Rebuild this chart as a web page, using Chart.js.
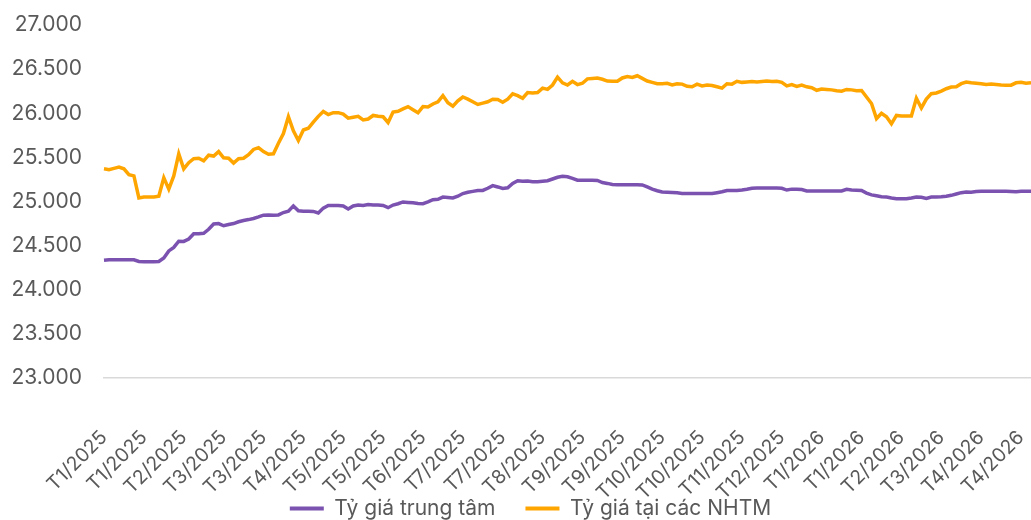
<!DOCTYPE html>
<html>
<head>
<meta charset="utf-8">
<script src="https://cdn.jsdelivr.net/npm/chart.js@4.4.1/dist/chart.umd.min.js"></script>
<style>
    html, body { margin: 0; padding: 0; background: #fff; }
    #wrap { width: 1031px; height: 520px; position: relative; }
</style>
</head>
<body>
<div id="wrap"><canvas id="fx-chart"></canvas></div>
<script>
    // Tick labels shown on the x axis (one every STEP points)
    const tickLabels = [
        'T1/2025', 'T1/2025', 'T2/2025', 'T3/2025', 'T3/2025', 'T4/2025',
        'T5/2025', 'T5/2025', 'T6/2025', 'T7/2025', 'T7/2025', 'T8/2025',
        'T9/2025', 'T9/2025', 'T10/2025', 'T10/2025', 'T11/2025', 'T12/2025',
        'T1/2026', 'T1/2026', 'T2/2026', 'T3/2026', 'T4/2026', 'T4/2026'
    ];
    const STEP = 8;

    // Tỷ giá trung tâm
    const centralRate = [
        24335, 24340, 24340, 24340, 24340, 24340, 24340, 24320, 24318, 24318,
        24318, 24320, 24360, 24440, 24480, 24550, 24548, 24575, 24635, 24635,
        24640, 24685, 24745, 24750, 24725, 24740, 24750, 24770, 24785, 24795,
        24808, 24825, 24845, 24848, 24845, 24848, 24875, 24890, 24950, 24895,
        24890, 24890, 24888, 24870, 24925, 24955, 24955, 24955, 24950, 24915,
        24950, 24960, 24955, 24965, 24960, 24960, 24955, 24930, 24960, 24975,
        24995, 24990, 24985, 24978, 24975, 24995, 25020, 25025, 25050, 25045,
        25040, 25060, 25090, 25105, 25115, 25125, 25125, 25150, 25180, 25165,
        25148, 25155, 25205, 25235, 25230, 25232, 25225, 25225, 25230, 25235,
        25255, 25275, 25285, 25280, 25262, 25242, 25240, 25240, 25240, 25238,
        25215, 25205, 25192, 25190, 25190, 25190, 25190, 25190, 25188, 25165,
        25140, 25122, 25108, 25105, 25102, 25100, 25092, 25090, 25090, 25090,
        25090, 25090, 25090, 25100, 25110, 25125, 25125, 25125, 25130, 25138,
        25150, 25153, 25153, 25153, 25153, 25153, 25150, 25130, 25140, 25140,
        25135, 25120, 25118, 25118, 25118, 25118, 25118, 25118, 25120, 25138,
        25130, 25128, 25125, 25095, 25075, 25065, 25055, 25050, 25040, 25032,
        25032, 25032, 25040, 25050, 25048, 25035, 25050, 25052, 25055, 25060,
        25070, 25085, 25100, 25108, 25105, 25112, 25115, 25115, 25115, 25115,
        25115, 25115, 25112, 25110, 25115, 25115, 25115
    ];

    // Tỷ giá tại các NHTM
    const bankRate = [
        25370, 25360, 25375, 25390, 25370, 25305, 25290, 25040, 25050, 25050,
        25050, 25060, 25270, 25140, 25290, 25540, 25370, 25440, 25485, 25490,
        25460, 25525, 25515, 25565, 25495, 25490, 25435, 25485, 25490, 25530,
        25590, 25610, 25565, 25535, 25540, 25660, 25770, 25960, 25800, 25690,
        25810, 25830, 25900, 25965, 26020, 25985, 26007, 26007, 25990, 25945,
        25955, 25965, 25925, 25935, 25975, 25965, 25960, 25895, 26014, 26022,
        26050, 26075, 26040, 26005, 26075, 26070, 26105, 26130, 26200, 26120,
        26080, 26140, 26184, 26160, 26130, 26100, 26115, 26130, 26158, 26155,
        26125, 26160, 26220, 26200, 26170, 26235, 26230, 26235, 26285, 26270,
        26320, 26410, 26345, 26320, 26362, 26325, 26340, 26390, 26395, 26400,
        26385, 26365, 26362, 26362, 26400, 26415, 26405, 26425, 26395, 26365,
        26350, 26335, 26335, 26340, 26320, 26335, 26330, 26305, 26300, 26330,
        26310, 26320, 26315, 26300, 26285, 26335, 26330, 26362, 26350, 26355,
        26360, 26355, 26360, 26365, 26360, 26362, 26350, 26310, 26325, 26305,
        26320, 26300, 26290, 26260, 26275, 26270, 26265, 26255, 26250, 26270,
        26265, 26255, 26258, 26184, 26110, 25940, 26000, 25960, 25880, 25975,
        25970, 25970, 25970, 26170, 26060, 26160, 26222, 26230, 26250, 26278,
        26297, 26300, 26335, 26354, 26345, 26340, 26335, 26325, 26330, 26325,
        26320, 26318, 26318, 26345, 26350, 26340, 26345
    ];

    const PURPLE = '#7B52B0';
    const ORANGE = '#FFA500';
    const TEXT = '#595959';
    const FONT = 'Inter, "Noto Sans", sans-serif';

    const labels = centralRate.map((v, i) => i);

    const ctx = document.getElementById('fx-chart');
    new Chart(ctx, {
        type: 'line',
        data: {
            labels: labels,
            datasets: [{
                label: 'Tỷ giá trung tâm',
                data: centralRate,
                borderColor: PURPLE,
                backgroundColor: PURPLE,
                borderWidth: 3.5,
                pointRadius: 0,
                tension: 0
            }, {
                label: 'Tỷ giá tại các NHTM',
                data: bankRate,
                borderColor: ORANGE,
                backgroundColor: ORANGE,
                borderWidth: 3.5,
                pointRadius: 0,
                tension: 0
            }]
        },
        options: {
            responsive: true,
            maintainAspectRatio: false,
            animation: false,
            // left padding only nudges the centred legend to the right
            layout: {
                padding: { top: 0, right: 0, bottom: -9, left: 30 }
            },
            plugins: {
                tooltip: { enabled: false },
                legend: {
                    display: true,
                    position: 'bottom',
                    labels: {
                        color: TEXT,
                        font: { family: FONT, size: 21 },
                        boxWidth: 34,
                        boxHeight: 4,
                        padding: 30,
                        generateLabels: function (chart) {
                            const items = Chart.defaults.plugins.legend.labels.generateLabels(chart);
                            items.forEach(function (item) { item.lineWidth = 0; });
                            return items;
                        }
                    }
                }
            },
            scales: {
                x: {
                    // tick marks are hidden, tickLength only pushes the labels down
                    grid: { display: false, drawTicks: true, tickLength: 44 },
                    border: { display: true, color: '#d9d9d9', width: 1.5 },
                    ticks: {
                        autoSkip: false,
                        minRotation: 45,
                        maxRotation: 45,
                        padding: 4,
                        color: TEXT,
                        font: { family: FONT, size: 19.5 },
                        callback: function (value, index) {
                            return index % STEP === 0 ? tickLabels[index / STEP] : null;
                        }
                    },
                    afterFit: function (scale) {
                        scale.height = 90;
                        scale.paddingRight = 0;
                        // let the rotated labels run over the legend band
                        scale._computeLabelArea = function () { return null; };
                    }
                },
                y: {
                    min: 23000,
                    max: 27000,
                    grid: { display: false, drawTicks: true, tickLength: 18 },
                    border: { display: false },
                    ticks: {
                        stepSize: 500,
                        padding: 4,
                        color: TEXT,
                        font: { family: FONT, size: 21 },
                        callback: function (value) {
                            return new Intl.NumberFormat('de-DE').format(value);
                        }
                    },
                    afterFit: function (scale) {
                        scale.width = 74;
                        scale.paddingTop = 25;
                        scale._computeLabelArea = function () { return null; };
                    }
                }
            }
        }
    });
</script>
</body>
</html>
